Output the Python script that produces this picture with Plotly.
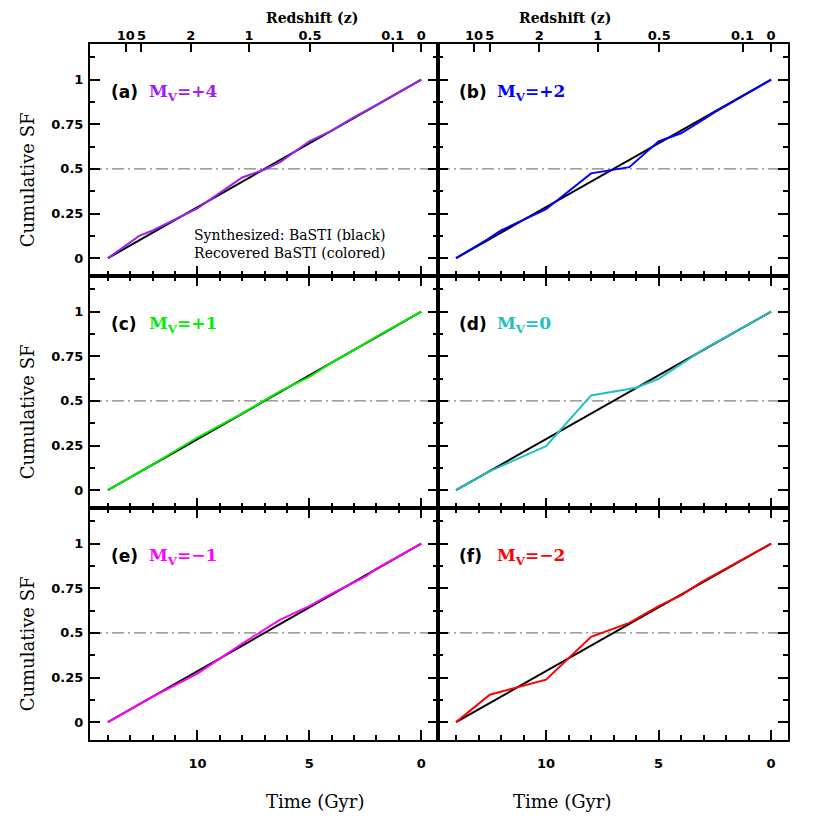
import plotly.graph_objects as go

# lookback time (Gyr) and cumulative SF
age_black = [14, 0]
sf_black = [0, 1]

age_a = [14, 12.6, 12, 10, 8, 7, 6.3, 5, 4, 3, 2, 0]
sf_a = [0, 0.125, 0.155, 0.279, 0.452, 0.497, 0.538, 0.655, 0.715, 0.79, 0.857, 1]

age_b = [14, 12.6, 12, 10, 8, 6.3, 5, 4, 3, 2.5, 0]
sf_b = [0, 0.105, 0.155, 0.274, 0.475, 0.51, 0.655, 0.70, 0.777, 0.818, 1]

age_c = [14, 12.6, 12, 10, 8, 6.3, 5, 4, 3, 2, 0]
sf_c = [0, 0.1, 0.145, 0.295, 0.43, 0.555, 0.635, 0.715, 0.785, 0.86, 1]

age_d = [14, 12.6, 12, 10, 8, 6, 5, 4, 3, 2.2, 0]
sf_d = [0, 0.10, 0.135, 0.247, 0.531, 0.574, 0.624, 0.705, 0.789, 0.845, 1]

age_e = [14, 12.6, 12, 10, 8, 6.3, 5, 4, 3, 2.5, 2, 0]
sf_e = [0, 0.1, 0.143, 0.272, 0.44, 0.575, 0.65, 0.72, 0.785, 0.815, 0.86, 1]

age_f = [14, 12.5, 10, 8, 6.3, 5, 4, 3.1, 0]
sf_f = [0, 0.154, 0.238, 0.478, 0.556, 0.65, 0.71, 0.785, 1]

panel_letters = ["(a)", "(b)", "(c)", "(d)", "(e)", "(f)"]
mv_labels = ["+4", "+2", "+1", "0", "\u22121", "\u22122"]
colors = ["#a020f0", "#0000ff", "#00ee00", "#20c0c0", "#ff00ff", "#ff0000"]
ages = [age_a, age_b, age_c, age_d, age_e, age_f]
sfs = [sf_a, sf_b, sf_c, sf_d, sf_e, sf_f]

# redshift ticks on the top axis, placed at their lookback time
z_labels = ["10", "5", "2", "1", "0.5", "0.1", "0"]
z_lookback = [13.2, 12.5, 10.3, 7.7, 4.97, 1.27, 0]

xr = [14.8, -0.75]
yr = [-0.1, 1.2]
tickfont = dict(family="DejaVu Sans", size=13, color="black", weight="bold")
titlefont = dict(family="DejaVu Serif", size=18, color="black")

fig = go.Figure()
layout = dict(width=830, height=830, paper_bgcolor="white", plot_bgcolor="white",
              margin=dict(l=82, r=50, t=36, b=98), showlegend=False)
annotations = []
shapes = []

for i in range(6):
    row, col = i // 2, i % 2
    n = i + 1
    xa, ya = "x" if n == 1 else "x%d" % n, "y" if n == 1 else "y%d" % n
    fig.add_trace(go.Scatter(x=age_black, y=sf_black, mode="lines", line=dict(color="black", width=2),
                             xaxis=xa, yaxis=ya, hoverinfo="skip"))
    fig.add_trace(go.Scatter(x=ages[i], y=sfs[i], mode="lines", line=dict(color=colors[i], width=2),
                             xaxis=xa, yaxis=ya))
    xdom = [0, 0.4986] if col == 0 else [0.4986, 1]
    ydom = [1 - (row + 1) / 3, 1 - row / 3]
    layout["xaxis%d" % n] = dict(domain=xdom, anchor=ya, range=xr, showgrid=False, zeroline=False,
                                 showline=True, linecolor="black", linewidth=2, automargin=False,
                                 mirror=True if row == 0 else "ticks",
                                 ticks="inside", ticklen=10, tickwidth=1.5, tickcolor="black",
                                 tickvals=[10, 5, 0], showticklabels=(row == 2), tickfont=tickfont,
                                 ticklabelstandoff=10,
                                 minor=dict(dtick=1, ticks="inside", ticklen=5, tickwidth=1.5, tickcolor="black"))
    layout["yaxis%d" % n] = dict(domain=ydom, anchor=xa, range=yr, showgrid=False, zeroline=False,
                                 showline=True, linecolor="black", linewidth=2, mirror="ticks",
                                 automargin=False, ticklabelstandoff=2,
                                 ticks="inside", ticklen=10, tickwidth=1.5, tickcolor="black",
                                 tickvals=[0, 0.25, 0.5, 0.75, 1], ticktext=["0", "0.25", "0.5", "0.75", "1"],
                                 showticklabels=(col == 0), tickfont=tickfont,
                                 minor=dict(dtick=0.125, tick0=0, ticks="inside", ticklen=5, tickwidth=1.5, tickcolor="black"))
    shapes.append(dict(type="line", xref="%s domain" % xa, yref=ya, x0=0, x1=1, y0=0.5, y1=0.5,
                       line=dict(color="#808080", width=1.2, dash="12px,4px,2px,4px"), layer="below"))
    annotations.append(dict(x=13.95, y=0.93, xref=xa, yref=ya, xanchor="left", yanchor="middle",
                            text="<b>%s</b>" % panel_letters[i], showarrow=False,
                            font=dict(family="DejaVu Sans", size=17, color="black")))
    annotations.append(dict(x=12.25, y=0.93, xref=xa, yref=ya, xanchor="left", yanchor="middle",
                            text="<b>M<sub>V</sub>=%s</b>" % mv_labels[i], showarrow=False,
                            font=dict(family="DejaVu Serif", size=17, color=colors[i])))

# top redshift axes for the first row
for k, base in [(7, "x"), (8, "x2")]:
    layout["xaxis%d" % k] = dict(overlaying=base, anchor="y" if base == "x" else "y2", side="top",
                                 range=xr, showgrid=False, zeroline=False, showline=False,
                                 automargin=False, tickangle=0,
                                 ticks="inside", ticklen=8, tickwidth=1.5, tickcolor="black",
                                 tickvals=z_lookback, ticktext=z_labels, tickfont=tickfont)
    fig.add_trace(go.Scatter(x=[7], y=[0.5], mode="markers", marker=dict(opacity=0),
                             xaxis="x%d" % k, yaxis="y" if base == "x" else "y2", hoverinfo="skip"))

for cx in [0.2493, 0.7493]:
    annotations.append(dict(x=cx, y=-0.071, xref="paper", yref="paper", yanchor="top", showarrow=False,
                            text="Time (Gyr)", font=titlefont))
    annotations.append(dict(x=cx, y=1 + 36 / 696, xref="paper", yref="paper", yanchor="top",
                            showarrow=False, text="<b>Redshift (z)</b>",
                            font=dict(family="DejaVu Serif", size=14, color="black")))
for r in range(3):
    annotations.append(dict(x=-0.089, y=1 - (r + 0.5) / 3 - 0.028, xref="paper", yref="paper", textangle=-90,
                            xanchor="center", yanchor="middle",
                            showarrow=False, text="Cumulative SF", font=titlefont))

annotations.append(dict(x=5.9, y=0.08, xref="x", yref="y", showarrow=False, align="center",
                        text="Synthesized: BaSTI (black)<br>Recovered BaSTI (colored)",
                        font=dict(family="DejaVu Serif", size=14, color="black")))

layout["annotations"] = annotations
layout["shapes"] = shapes
fig.update_layout(**layout)
fig.write_html("out.html")
